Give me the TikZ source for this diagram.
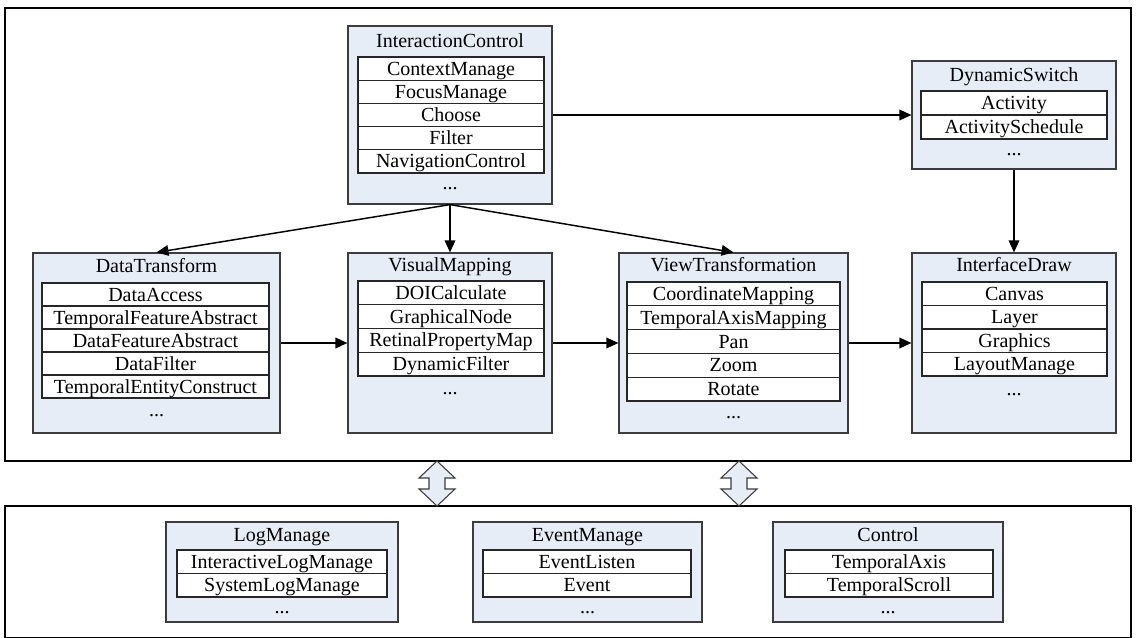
\documentclass[tikz,border=0pt]{standalone}
\usepackage{fontspec}
\setmainfont{Liberation Serif}
\usetikzlibrary{fit,arrows.meta}
\definecolor{boxfill}{RGB}{231,237,247}
\definecolor{boxline}{RGB}{60,60,60}
\tikzset{
  frame/.style={draw=black, line width=1.5pt, inner sep=0pt},
  cls/.style={draw=boxline, fill=boxfill, line width=0.9pt, inner sep=0pt},
  row/.style={draw=black!85, fill=white, line width=0.8pt, inner sep=0pt,
              text height=12.5pt, text depth=2.6pt},
  ttl/.style={inner sep=0pt, text height=12.5pt, text depth=2.6pt},
  more/.style={inner sep=0pt, anchor=base},
  conn/.style={line width=1.1pt, -{Triangle[length=9pt,width=8pt]}},
  dbl/.style={draw=boxline, fill=boxfill, line width=0.8pt, line join=miter},
}
% #1 name prefix, #2 left x, #3 right x, #4 top y, #5 row height, #6 list
\newcommand\mkrows[6]{%
  \foreach \t [count=\i] in {#6} {
    \node[row, minimum width={(#3-#2)*0.75pt}, minimum height={#5*0.75pt}]
      (#1\i) at ({(#2+#3)/2}, {#4+#5*(\i-0.5)}) {\t};
  }%
}
\begin{document}
\begin{tikzpicture}[x=0.75pt, y=-0.75pt, font=\fontsize{15}{18}\selectfont]
\useasboundingbox (0,0) rectangle (1136,638);

% frames
\node[frame, fit={(5,8) (1131,461)}] (topframe) {};
\node[frame, fit={(5,506) (1131,638)}] (botframe) {};

% double arrows between frames
\draw[dbl] (437,461) -- ++(18,17) -- ++(-10,0) -- ++(0,11) -- ++(10,0) -- ++(-18,17)
  -- ++(-18,-17) -- ++(10,0) -- ++(0,-11) -- ++(-10,0) -- cycle;
\draw[dbl] (739,461) -- ++(18,17) -- ++(-10,0) -- ++(0,11) -- ++(10,0) -- ++(-18,17)
  -- ++(-18,-17) -- ++(10,0) -- ++(0,-11) -- ++(-10,0) -- cycle;

% InteractionControl
\node[cls, fit={(348,26) (552,204)}] (ic) {};
\node[ttl] (ict) at (450,41) {InteractionControl};
\mkrows{ic}{358}{544}{57}{23.2}{ContextManage,FocusManage,Choose,Filter,NavigationControl}
\node[more] (icd) at (450,190) {...};

% DynamicSwitch
\node[cls, fit={(912,61) (1116,169)}] (ds) {};
\node[ttl] (dst) at (1014,75) {DynamicSwitch};
\mkrows{ds}{921}{1107}{91}{24}{Activity,ActivitySchedule}
\node[more] (dsd) at (1014,156) {...};

% DataTransform
\node[cls, fit={(33,253) (280,433)}] (dt) {};
\node[ttl] (dtt) at (156.5,266) {DataTransform};
\mkrows{dt}{42}{269}{283}{23}{DataAccess,TemporalFeatureAbstract,DataFeatureAbstract,DataFilter,TemporalEntityConstruct}
\node[more] (dtd) at (156.5,416) {...};

% VisualMapping
\node[cls, fit={(348,253) (552,433)}] (vm) {};
\node[ttl] (vmt) at (450,265) {VisualMapping};
\mkrows{vm}{358}{544}{281}{23.75}{DOICalculate,GraphicalNode,RetinalPropertyMap,DynamicFilter}
\node[more] (vmd) at (450,394) {...};

% ViewTransformation
\node[cls, fit={(619,253) (848,433)}] (vt) {};
\node[ttl] (vtt) at (733.5,265) {ViewTransformation};
\mkrows{vt}{627}{840}{282}{23.8}{CoordinateMapping,TemporalAxisMapping,Pan,Zoom,Rotate}
\node[more] (vtd) at (733.5,418) {...};

% InterfaceDraw
\node[cls, fit={(912,253) (1116,433)}] (id) {};
\node[ttl] (idt) at (1014,265) {InterfaceDraw};
\mkrows{id}{922}{1107}{282}{23.5}{Canvas,Layer,Graphics,LayoutManage}
\node[more] (idd) at (1014,395) {...};

% LogManage
\node[cls, fit={(166,522) (398,622)}] (lm) {};
\node[ttl] (lmt) at (282,535) {LogManage};
\mkrows{lm}{177}{387}{550}{23.5}{InteractiveLogManage,SystemLogManage}
\node[more] (lmd) at (282,613) {...};

% EventManage
\node[cls, fit={(473,522) (702,622)}] (em) {};
\node[ttl] (emt) at (587.5,535) {EventManage};
\mkrows{em}{483}{691}{550}{23.5}{EventListen,Event}
\node[more] (emd) at (587.5,613) {...};

% Control
\node[cls, fit={(773,522) (1003,622)}] (ct) {};
\node[ttl] (ctt) at (888,535) {Control};
\mkrows{ct}{785}{993}{550}{23.5}{TemporalAxis,TemporalScroll}
\node[more] (ctd) at (888,613) {...};

% connectors
\draw[conn] (ic.east) -- (ds.west);
\draw[conn] (ds.south) -- (id.north);
\draw[conn] (ic.south) -- (dt.north);
\draw[conn] (ic.south) -- (vm.north);
\draw[conn] (ic.south) -- (vt.north);
\draw[conn] (dt.east) -- (vm.west);
\draw[conn] (vm.east) -- (vt.west);
\draw[conn] (vt.east) -- (id.west);
\end{tikzpicture}
\end{document}
